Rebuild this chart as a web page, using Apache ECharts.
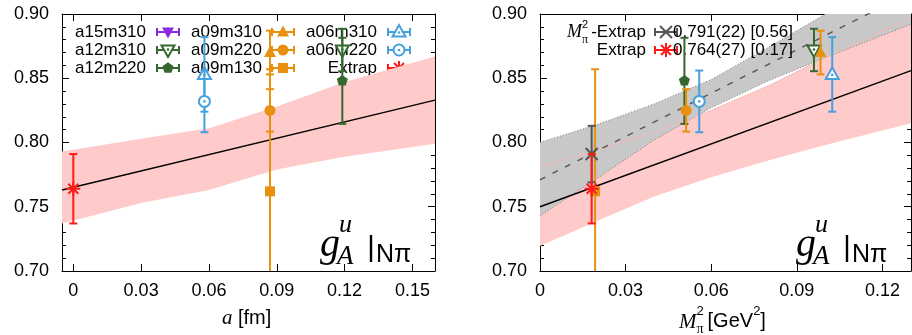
<!DOCTYPE html>
<html>
<head>
<meta charset="utf-8">
<script src="https://cdn.jsdelivr.net/npm/echarts@6/dist/echarts.min.js"></script>
<style>
  html, body { margin: 0; padding: 0; background: #fff; }
  #chart { width: 912px; height: 335px; }
</style>
</head>
<body>
<div id="chart"></div>
<script>
// ---- data ----
const ensembleNames = ['a15m310', 'a12m310', 'a12m220', 'a09m310', 'a09m220', 'a09m130', 'a06m310', 'a06m220'];
const spacingFm     = [null,  0.119,  0.119,  0.087,  0.087,  0.087,  0.058,  0.058];
const mpiSqGeV2     = [null,  0.0960, 0.0506, 0.0983, 0.0512, 0.0193, 0.1024, 0.0558];
const gAu           = [null,  0.872,  0.848,  0.870,  0.825,  0.762,  0.853,  0.832];
const gAuErr        = [null,  0.0165, 0.0335, 0.017,  0.0165, 0.095,  0.029,  0.024];

// continuum/chiral extrapolated value
const extrapSpacing = 0;
const extrapMpiSq = 0.0181;
const extrapVal = 0.764;
const extrapErr = 0.027;
const extrapLabel = '0.764(27) [0.17]';
// chiral-only extrapolation
const mpiExtrapVal = 0.791;
const mpiExtrapErr = 0.022;
const mpiExtrapLabel = '0.791(22) [0.56]';

// fit vs lattice spacing (left) with its error band
const fitA_x = [-0.005, 0.16];
const fitA_y = [0.763, 0.833];
const bandA_x     = [-0.005, 0.03,  0.06,  0.09,  0.12,  0.16];
const bandA_upper = [0.793,  0.803, 0.811, 0.828, 0.847, 0.867];
const bandA_lower = [0.737,  0.753, 0.763, 0.779, 0.789, 0.799];

// full fit vs M_pi^2 (right, red band)
const fitM_x = [0, 0.13];
const fitM_y = [0.750, 0.856];
const bandM_x     = [0,      0.02,  0.04,  0.06,  0.08,  0.10,  0.13];
const bandM_upper = [0.781,  0.794, 0.808, 0.825, 0.844, 0.866, 0.897];
const bandM_lower = [0.7195, 0.739, 0.758, 0.773, 0.786, 0.798, 0.815];

// chiral-only fit vs M_pi^2 (right, grey band)
const chiFit_x = [0, 0.13];
const chiFit_y = [0.771, 0.917];
const chiBand_x     = [0,     0.02,  0.04,  0.06,  0.08,  0.10,  0.13];
const chiBand_upper = [0.800, 0.814, 0.830, 0.849, 0.874, 0.900, 0.942];
const chiBand_lower = [0.743, 0.772, 0.802, 0.827, 0.848, 0.866, 0.892];

// axes
const yMin = 0.70, yMax = 0.90, yStep = 0.05;
const xTicksA = [0, 0.03, 0.06, 0.09, 0.12, 0.15];
const xTicksM = [0, 0.03, 0.06, 0.09, 0.12];

// ---- styles ----
const C = {
  purple: '#8a2be2', green: '#35682f', orange: '#e8900f',
  blue: '#45a0de', red: '#ff1a1a', grey: '#555555'
};
const ensembleStyle = {
  a15m310: { color: C.purple, kind: 'dtri' },
  a12m310: { color: C.green,  kind: 'odtri' },
  a12m220: { color: C.green,  kind: 'pent' },
  a09m310: { color: C.orange, kind: 'tri' },
  a09m220: { color: C.orange, kind: 'circle' },
  a09m130: { color: C.orange, kind: 'square' },
  a06m310: { color: C.blue,   kind: 'otri' },
  a06m220: { color: C.blue,   kind: 'ocircle' }
};
const SANS = '"Liberation Sans", Arial, sans-serif';
const SERIF = '"Liberation Serif", "Times New Roman", serif';

const measureCtx = document.createElement('canvas').getContext('2d');
function textWidth(str, font) {
  measureCtx.font = font;
  return measureCtx.measureText(str).width;
}

// marker shapes as zrender element options
function markerEls(kind, color, x, y) {
  const lw = 2;
  switch (kind) {
    case 'circle':
      return [{ type: 'circle', shape: { cx: x, cy: y, r: 5.5 }, style: { fill: color } }];
    case 'ocircle':
      return [
        { type: 'circle', shape: { cx: x, cy: y, r: 5.5 }, style: { fill: '#fff', stroke: color, lineWidth: lw } },
        { type: 'circle', shape: { cx: x, cy: y, r: 1.3 }, style: { fill: color } }
      ];
    case 'square':
      return [{ type: 'rect', shape: { x: x - 5, y: y - 5, width: 10, height: 10 }, style: { fill: color } }];
    case 'tri':
      return [{ type: 'polygon', shape: { points: [[x, y - 6.5], [x + 6, y + 4.5], [x - 6, y + 4.5]] }, style: { fill: color } }];
    case 'otri':
      return [
        { type: 'polygon', shape: { points: [[x, y - 7], [x + 6.5, y + 4.5], [x - 6.5, y + 4.5]] }, style: { fill: '#fff', stroke: color, lineWidth: lw } },
        { type: 'circle', shape: { cx: x, cy: y + 0.5, r: 1.3 }, style: { fill: color } }
      ];
    case 'dtri':
      return [{ type: 'polygon', shape: { points: [[x, y + 6.5], [x + 6, y - 4.5], [x - 6, y - 4.5]] }, style: { fill: color } }];
    case 'odtri':
      return [
        { type: 'polygon', shape: { points: [[x, y + 7], [x + 6.5, y - 4.5], [x - 6.5, y - 4.5]] }, style: { fill: '#fff', stroke: color, lineWidth: lw } },
        { type: 'circle', shape: { cx: x, cy: y - 0.5, r: 1.3 }, style: { fill: color } }
      ];
    case 'pent': {
      const pts = [];
      for (let k = 0; k < 5; k++) {
        const t = -Math.PI / 2 + k * 2 * Math.PI / 5;
        pts.push([x + 5.8 * Math.cos(t), y + 5.8 * Math.sin(t)]);
      }
      return [{ type: 'polygon', shape: { points: pts }, style: { fill: color } }];
    }
    case 'star': {
      const r = 7, d = 5;
      return [
        { type: 'line', shape: { x1: x - r, y1: y, x2: x + r, y2: y }, style: { stroke: color, lineWidth: lw } },
        { type: 'line', shape: { x1: x, y1: y - r, x2: x, y2: y + r }, style: { stroke: color, lineWidth: lw } },
        { type: 'line', shape: { x1: x - d, y1: y - d, x2: x + d, y2: y + d }, style: { stroke: color, lineWidth: lw } },
        { type: 'line', shape: { x1: x - d, y1: y + d, x2: x + d, y2: y - d }, style: { stroke: color, lineWidth: lw } }
      ];
    }
    case 'cross': {
      const d = 6;
      return [
        { type: 'line', shape: { x1: x - d, y1: y - d, x2: x + d, y2: y + d }, style: { stroke: color, lineWidth: lw } },
        { type: 'line', shape: { x1: x - d, y1: y + d, x2: x + d, y2: y - d }, style: { stroke: color, lineWidth: lw } }
      ];
    }
  }
  return [];
}

// vertical error bar with caps, then the marker
function errorBarSeries(name, gridIdx, points, kind, color, z) {
  return {
    name, type: 'custom', xAxisIndex: gridIdx * 2, yAxisIndex: gridIdx * 2,
    clip: true, z: z || 5, silent: true,
    data: points,
    renderItem(params, api) {
      const x = api.value(0), y = api.value(1), e = api.value(2);
      const c = api.coord([x, y]);
      const hi = api.coord([x, y + e]);
      const lo = api.coord([x, y - e]);
      const cap = 4;
      const els = [
        { type: 'line', shape: { x1: c[0], y1: hi[1], x2: c[0], y2: lo[1] }, style: { stroke: color, lineWidth: 2 } },
        { type: 'line', shape: { x1: c[0] - cap, y1: hi[1], x2: c[0] + cap, y2: hi[1] }, style: { stroke: color, lineWidth: 2 } },
        { type: 'line', shape: { x1: c[0] - cap, y1: lo[1], x2: c[0] + cap, y2: lo[1] }, style: { stroke: color, lineWidth: 2 } }
      ].concat(markerEls(kind, color, c[0], c[1]));
      return { type: 'group', children: els };
    }
  };
}

// filled band between lower and upper curves, optional edge strokes
function bandSeries(gridIdx, xs, lower, upper, fill, edge, z) {
  return {
    type: 'custom', xAxisIndex: gridIdx * 2, yAxisIndex: gridIdx * 2,
    clip: true, z, silent: true,
    data: [[xs[0], lower[0]]],
    renderItem(params, api) {
      const top = xs.map((x, i) => api.coord([x, upper[i]]));
      const bot = xs.map((x, i) => api.coord([x, lower[i]]));
      const poly = top.concat(bot.slice().reverse());
      const els = [{ type: 'polygon', shape: { points: poly }, style: { fill } }];
      if (edge) {
        els.push({ type: 'polyline', shape: { points: top }, style: { stroke: edge.color, lineWidth: 1, lineDash: edge.dash, fill: null } });
        els.push({ type: 'polyline', shape: { points: bot }, style: { stroke: edge.color, lineWidth: 1, lineDash: edge.dash, fill: null } });
      }
      return { type: 'group', children: els };
    }
  };
}

// a single edge curve of a band, drawn on top of other fills
function edgeSeries(gridIdx, xs, ys, color, z) {
  return {
    type: 'line', xAxisIndex: gridIdx * 2, yAxisIndex: gridIdx * 2, z, silent: true,
    data: xs.map((x, i) => [x, ys[i]]), symbol: 'none', showSymbol: false,
    lineStyle: { color, width: 1 }
  };
}

function fitLine(gridIdx, xs, ys, color, type, z) {
  return {
    type: 'line', xAxisIndex: gridIdx * 2, yAxisIndex: gridIdx * 2, z, silent: true,
    data: xs.map((x, i) => [x, ys[i]]), symbol: 'none', showSymbol: false,
    lineStyle: { color, width: 1.4, type }
  };
}

// ---- axes ----
const fmtX = v => (v === 0 ? '0' : v.toFixed(2));
function xAxesFor(gridIndex, min, max, ticks) {
  const common = {
    type: 'value', gridIndex, min, max, splitLine: { show: false },
    axisLine: { show: true, onZero: false, lineStyle: { color: '#000', width: 1 } }
  };
  return [
    Object.assign({}, common, {
      position: 'bottom',
      axisTick: { show: true, inside: true, length: 7, customValues: ticks, lineStyle: { color: '#000' } },
      axisLabel: { show: true, customValues: ticks, formatter: fmtX, margin: 11, fontSize: 18, color: '#000', fontFamily: SANS }
    }),
    Object.assign({}, common, {
      position: 'top',
      axisTick: { show: true, inside: true, length: 7, customValues: ticks, lineStyle: { color: '#000' } },
      axisLabel: { show: false }
    })
  ];
}
function yAxesFor(gridIndex) {
  const common = {
    type: 'value', gridIndex, min: yMin, max: yMax, interval: yStep, splitLine: { show: false },
    axisLine: { show: true, onZero: false, lineStyle: { color: '#000', width: 1 } },
    axisTick: { show: true, inside: true, length: 7, lineStyle: { color: '#000' } },
    minorTick: { show: true, splitNumber: 5, length: 4, lineStyle: { color: '#000' } }
  };
  return [
    Object.assign({}, common, {
      position: 'left',
      axisLabel: { show: true, formatter: v => v.toFixed(2), margin: 13, fontSize: 18, color: '#000', fontFamily: SANS }
    }),
    Object.assign({}, common, { position: 'right', axisLabel: { show: false } })
  ];
}

// ---- series ----
const series = [];
// left panel: band and fit
series.push(bandSeries(0, bandA_x, bandA_lower, bandA_upper, '#ffcaca', null, 1));
series.push(fitLine(0, fitA_x, fitA_y, '#000', 'solid', 3));
// right panel: red band, grey band, red band upper edge, fits
series.push(bandSeries(1, bandM_x, bandM_lower, bandM_upper, '#ffcaca', null, 1));
series.push(bandSeries(1, chiBand_x, chiBand_lower, chiBand_upper, '#c8c8c8', { color: '#7a7a7a', dash: [1, 2] }, 2));
series.push(edgeSeries(1, bandM_x, bandM_upper, '#f3b9b9', 2.5));
series.push(fitLine(1, chiFit_x, chiFit_y, '#555', [6, 8], 3));
series.push(fitLine(1, fitM_x, fitM_y, '#000', 'solid', 3));

ensembleNames.forEach((name, i) => {
  const st = ensembleStyle[name];
  if (gAu[i] == null) return;
  series.push(errorBarSeries(name, 0, [[spacingFm[i], gAu[i], gAuErr[i]]], st.kind, st.color, 5));
  series.push(errorBarSeries(name, 1, [[mpiSqGeV2[i], gAu[i], gAuErr[i]]], st.kind, st.color, 5));
});
series.push(errorBarSeries('Extrap', 0, [[extrapSpacing, extrapVal, extrapErr]], 'star', C.red, 6));
series.push(errorBarSeries('Mpi2-Extrap', 1, [[extrapMpiSq, mpiExtrapVal, mpiExtrapErr]], 'cross', C.grey, 6));
series.push(errorBarSeries('Extrap', 1, [[extrapMpiSq, extrapVal, extrapErr]], 'star', C.red, 7));

// ---- legends and labels (graphic) ----
const graphic = [];
function text(str, x, y, font, align, z) {
  graphic.push({
    type: 'text', x, y, z: z || 1, silent: true,
    style: { text: str, font, fill: '#000', textAlign: align || 'left', textVerticalAlign: 'middle' }
  });
}
function legendSample(kind, color, cx, cy, z) {
  const w = 11, cap = 4;
  const els = [
    { type: 'line', shape: { x1: cx - w, y1: cy, x2: cx + w, y2: cy }, style: { stroke: color, lineWidth: 2 } },
    { type: 'line', shape: { x1: cx - w, y1: cy - cap, x2: cx - w, y2: cy + cap }, style: { stroke: color, lineWidth: 2 } },
    { type: 'line', shape: { x1: cx + w, y1: cy - cap, x2: cx + w, y2: cy + cap }, style: { stroke: color, lineWidth: 2 } }
  ].concat(markerEls(kind, color, cx, cy));
  graphic.push({ type: 'group', z: z || 1, silent: true, children: els });
}

const legendFont = '17px ' + SANS;
const legendCols = [{ right: 146, mark: 168 }, { right: 262, mark: 283 }, { right: 377, mark: 399 }];
const legendRows = [32, 50, 68];
const legendEntries = ensembleNames.map(n => ({ label: n, kind: ensembleStyle[n].kind, color: ensembleStyle[n].color }))
  .concat([{ label: 'Extrap', kind: 'star', color: C.red }]);
legendEntries.forEach((e, i) => {
  const col = legendCols[Math.floor(i / 3)], row = legendRows[i % 3];
  text(e.label, col.right, row, legendFont, 'right', 1);
  legendSample(e.kind, e.color, col.mark, row, 1);
});

// right legend
text('-Extrap', 646, 32, legendFont, 'right', 4);
text('M', 567, 32, 'italic 18px ' + SERIF, 'left', 4);
text('2', 582, 25, '11px ' + SANS, 'left', 4);
text('\u03c0', 582, 40, '12px ' + SERIF, 'left', 4);
legendSample('cross', C.grey, 666, 32, 4);
text(mpiExtrapLabel, 673, 32, legendFont, 'left', 4);
text('Extrap', 646, 50, legendFont, 'right', 4);
legendSample('star', C.red, 666, 50, 4);
text(extrapLabel, 673, 50, legendFont, 'left', 4);

// panel tag g_A^u |_{N pi}
function panelTag(R) {
  text('g', R - 115, 245, 'italic 40px ' + SERIF, 'left', 8);
  text('u', R - 96, 225, 'italic 26px ' + SERIF, 'left', 8);
  text('A', R - 98, 257, 'italic 27px ' + SERIF, 'left', 8);
  graphic.push({ type: 'line', z: 8, silent: true, shape: { x1: R - 64, y1: 235, x2: R - 64, y2: 262 }, style: { stroke: '#000', lineWidth: 2.4 } });
  text('N\u03c0', R - 59, 255, '25px ' + SANS, 'left', 8);
}
panelTag(435);
panelTag(911);

// axis names
text('a', 222, 318, 'italic 21px ' + SERIF, 'left', 8);
text('[fm]', 238, 318, '20px ' + SANS, 'left', 8);
(function () {
  let x = 679;
  text('M', x, 322, 'italic 21px ' + SERIF, 'left', 8);
  x += textWidth('M', 'italic 21px ' + SERIF);
  text('2', x, 311, '13px ' + SANS, 'left', 8);
  text('\u03c0', x, 329, '14px ' + SERIF, 'left', 8);
  x += textWidth('\u03c0', '14px ' + SERIF) + 4;
  text('[GeV', x, 321, '20px ' + SANS, 'left', 8);
  x += textWidth('[GeV', '20px ' + SANS);
  text('2', x, 311, '13px ' + SANS, 'left', 8);
  x += textWidth('2', '13px ' + SANS);
  text(']', x, 321, '20px ' + SANS, 'left', 8);
})();

const option = {
  animation: false,
  backgroundColor: '#fff',
  grid: [
    { left: 62, top: 14, width: 373, height: 257 },
    { left: 540, top: 14, width: 371, height: 257 }
  ],
  xAxis: xAxesFor(0, -0.005, 0.16, xTicksA).concat(xAxesFor(1, 0, 0.13, xTicksM)),
  yAxis: yAxesFor(0).concat(yAxesFor(1)),
  series,
  graphic
};

const chart = echarts.init(document.getElementById('chart'));
chart.setOption(option);
</script>
</body>
</html>
